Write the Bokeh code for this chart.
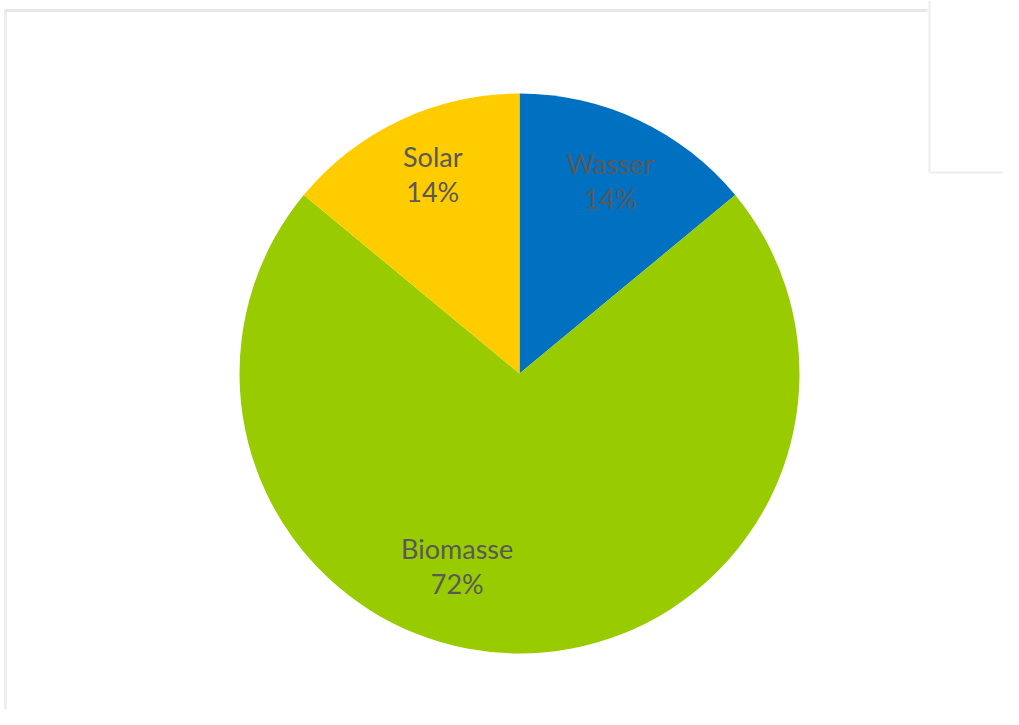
import math
from bokeh.plotting import figure
from bokeh.models import Range1d, ColumnDataSource
from bokeh.core.properties import value
from bokeh.embed import file_html
from bokeh.resources import INLINE

# Data
categories = ["Wasser", "Biomasse", "Solar"]
shares = [14, 72, 14]
colors = ["#0070C0", "#99CC00", "#FFCC00"]

W, H = 1003, 709
TOP = 725
p = figure(width=W, height=H, output_backend="svg", toolbar_location=None,
           x_range=Range1d(0, W), y_range=Range1d(TOP - H, TOP),
           min_border=0, outline_line_color=None)
p.axis.visible = False
p.grid.visible = False
p.background_fill_color = "white"
p.border_fill_color = "white"

# frame decorations (screen-pixel coords, y flipped)
def Y(py):
    return TOP - py

p.line([5, 5], [Y(10), Y(725)], line_color="#EEEEEE", line_width=3)
p.line([4, 927], [Y(10), Y(10)], line_color="#E4E7EC", line_width=3)
p.line([929, 929], [Y(0), Y(172)], line_color="#EEEEEE", line_width=2)
p.line([929, 1003], [Y(172), Y(172)], line_color="#EEEEEE", line_width=2)

cx, cy, R = 519, Y(373), 280
total = sum(shares)
start = math.pi / 2
starts, ends, mids = [], [], []
for s in shares:
    sweep = 2 * math.pi * s / total
    starts.append(start - sweep)
    ends.append(start)
    mids.append(start - sweep / 2)
    start -= sweep

src = ColumnDataSource(dict(cat=categories, start=starts, end=ends, color=colors,
                            pct=[f"{round(100*s/total)}%" for s in shares]))
p.wedge(x=cx, y=cy, radius=R, start_angle="start", end_angle="end",
        fill_color="color", line_color=None, source=src)

# label placement (layout): radius fraction and angle offset per slice
label_rfrac = [0.76, 0.72, 0.78]
label_angle_off = [0.0, math.radians(-18), math.radians(-1.8)]
lx, ly1, ly2 = [], [], []
for m, rf, off in zip(mids, label_rfrac, label_angle_off):
    a = m + off
    x = cx + R * rf * math.cos(a)
    y = cy + R * rf * math.sin(a)
    lx.append(x)
    ly1.append(y + 17)
    ly2.append(y - 18)

lsrc = ColumnDataSource(dict(x=lx, y1=ly1, y2=ly2, cat=categories, pct=src.data["pct"]))
for ycol, tcol in (("y1", "cat"), ("y2", "pct")):
    p.text(x="x", y=ycol, text=tcol, source=lsrc, text_align="center",
           text_baseline="middle", text_font=value("Lato"),
           text_font_size="27px", text_color="#595959")

open("out.html", "w").write(file_html(p, INLINE))
